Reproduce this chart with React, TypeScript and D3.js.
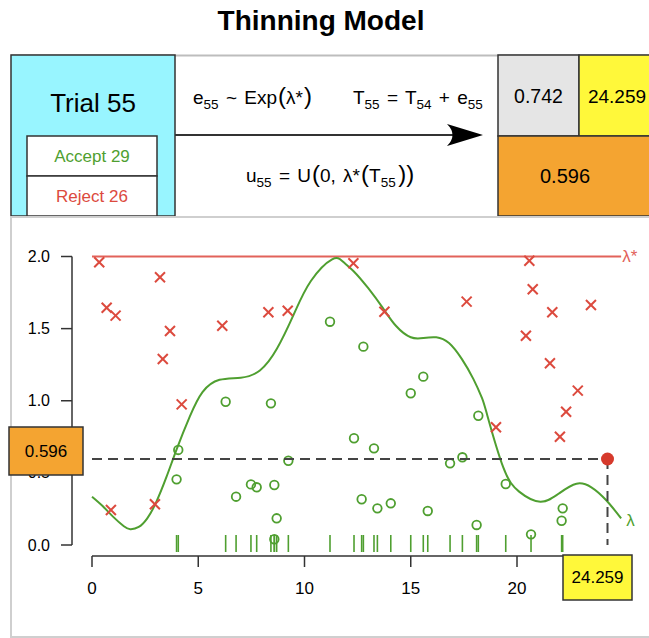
import * as d3 from 'd3'

const width = 649
const height = 638

const font = '"Liberation Sans", Arial, Helvetica, sans-serif'
const red = '#dc4a3e'
const green = '#4f9f30'

// current trial
const trial = 55
const acceptCount = 29
const rejectCount = 26
const eCur = 0.742
const tCur = 24.259
const uCur = 0.596

// intensity lambda(t)
const lamT = [0, 0.5, 1.0, 1.5, 1.8, 2.2, 2.6, 3.0, 3.5, 4.0, 4.6, 5.2, 6.0, 7.0, 7.9, 8.7, 9.5, 10.3, 11.3, 11.8, 12.3, 13.0, 13.7, 14.3, 15.0, 15.6, 16.2, 16.8, 17.4, 17.95, 18.35, 18.6, 19.35, 20.1, 21.1, 22.0, 22.8, 23.5, 24.2, 24.9]
const lamV = [0.335, 0.27, 0.195, 0.13, 0.11, 0.125, 0.185, 0.29, 0.47, 0.67, 0.89, 1.06, 1.145, 1.16, 1.21, 1.36, 1.6, 1.83, 1.98, 1.965, 1.9, 1.78, 1.64, 1.52, 1.44, 1.435, 1.44, 1.4, 1.29, 1.15, 1.02, 0.9, 0.54, 0.37, 0.3, 0.36, 0.425, 0.4, 0.31, 0.185]
const lamStar = 2.0

// accepted points (t, u)
const accT = [3.98, 4.06, 6.29, 6.78, 7.48, 7.75, 8.42, 8.58, 8.69, 8.58, 9.24, 11.2, 12.33, 12.69, 12.77, 13.27, 13.43, 14.06, 15.0, 15.59, 15.8, 16.85, 17.43, 18.1, 18.18, 19.47, 20.66, 22.1, 22.15]
const accU = [0.455, 0.659, 0.993, 0.335, 0.42, 0.4, 0.982, 0.416, 0.185, 0.04, 0.584, 1.548, 0.74, 0.317, 1.375, 0.67, 0.254, 0.289, 1.052, 1.167, 0.236, 0.566, 0.608, 0.139, 0.896, 0.423, 0.074, 0.168, 0.254]

// rejected points (t, u)
const rejT = [0.34, 0.69, 0.89, 1.11, 2.96, 3.2, 3.33, 3.67, 4.22, 6.13, 8.3, 9.21, 12.3, 13.76, 17.63, 19.01, 20.42, 20.58, 20.74, 21.55, 21.66, 22.02, 22.31, 22.86, 23.48]
const rejU = [1.96, 1.645, 0.243, 1.59, 0.282, 1.856, 1.289, 1.484, 0.975, 1.52, 1.613, 1.624, 1.953, 1.617, 1.687, 0.816, 1.451, 1.971, 1.773, 1.26, 1.613, 0.751, 0.924, 1.07, 1.664]

const xTicks = [0, 5, 10, 15, 20, 25]
const xLabels = ['0', '5', '10', '15', '20', '']
const yTicks = [0, 0.5, 1.0, 1.5, 2.0]

function Sub({ children }: { children: string }) {
  return <tspan fontSize={13.5} dy={5}>{children}</tspan>
}

function Up({ children }: { children: string }) {
  return <tspan dy={-5}>{children}</tspan>
}

function Paren({ children }: { children: string }) {
  return <tspan fontSize={24} dx={1}>{children}</tspan>
}

function App() {
  const x = d3.scaleLinear().domain([0, 25]).range([92, 623.25])
  const y = d3.scaleLinear().domain([0, 2]).range([545, 256.5])

  const lamPts = lamT.map((t, i) => [t, lamV[i]] as [number, number])
  const lamLine = d3.line<[number, number]>()
    .x(d => x(d[0]))
    .y(d => y(d[1]))
    .curve(d3.curveNatural)

  const xs = 5
  const fmt = d3.format('.3f')
  const axisY = 556

  return (
    <svg width={width} height={height} style={{ display: 'block', position: 'absolute', left: 0, top: 0 }} fontFamily={font}>
      <rect width={width} height={height} fill="white" />
      <text x={321} y={30} textAnchor="middle" fontSize={28} fontWeight="bold">Thinning Model</text>

      {/* top panel */}
      <line x1={11} x2={649} y1={55.5} y2={55.5} stroke="#bdbdbd" strokeWidth={2} />
      <rect x={11} y={55} width={164} height={161} fill="#98f5ff" stroke="#333" strokeWidth={1.5} />
      <text x={93} y={112} textAnchor="middle" fontSize={26}>Trial {trial}</text>
      <rect x={27} y={136} width={130} height={40} fill="white" stroke="#333" strokeWidth={1.5} />
      <rect x={27} y={176} width={130} height={40} fill="white" stroke="#333" strokeWidth={1.5} />
      <text x={92} y={162} textAnchor="middle" fontSize={17} fill={green}>Accept {acceptCount}</text>
      <text x={92} y={202} textAnchor="middle" fontSize={17} fill={red}>Reject {rejectCount}</text>

      <line x1={175} x2={470} y1={135} y2={135} stroke="#333" strokeWidth={1.8} />
      <path d="M483,135 L447,124 Q458,135 447,146 Z" fill="black" />
      <text x={193} y={104} fontSize={19} wordSpacing={2}>
        e<Sub>{String(trial)}</Sub><Up> ~ Exp</Up><Paren>(</Paren>λ*<Paren>)</Paren>
      </text>
      <text x={353} y={104} fontSize={19} wordSpacing={2}>
        T<Sub>{String(trial)}</Sub><Up> = T</Up><Sub>{String(trial - 1)}</Sub><Up> + e</Up><Sub>{String(trial)}</Sub>
      </text>
      <text x={246} y={182} fontSize={19} wordSpacing={2}>
        u<Sub>{String(trial)}</Sub><Up> = U</Up><Paren>(</Paren>0, λ*<Paren>(</Paren>T<Sub>{String(trial)}</Sub><Up>{'\u200A'}</Up><Paren>))</Paren>
      </text>

      <rect x={498} y={55} width={81} height={81} fill="#e5e5e5" stroke="#333" strokeWidth={1.5} />
      <rect x={579} y={55} width={81} height={81} fill="#fff83a" stroke="#333" strokeWidth={1.5} />
      <rect x={498} y={136} width={162} height={80} fill="#f4a431" stroke="#333" strokeWidth={1.5} />
      <text x={538.5} y={103} textAnchor="middle" fontSize={19.5}>{fmt(eCur)}</text>
      <text x={617} y={103} textAnchor="middle" fontSize={19}>{fmt(tCur)}</text>
      <text x={565} y={183} textAnchor="middle" fontSize={20}>{fmt(uCur)}</text>

      {/* plot frame */}
      <rect x={11} y={217} width={640} height={420} fill="none" stroke="#cfcfcf" strokeWidth={2} />

      {/* axes */}
      <line x1={72} x2={72} y1={y(0)} y2={y(2)} stroke="#333" strokeWidth={1.5} />
      {yTicks.map(t => (
        <g key={t} transform={`translate(72,${y(t)})`}>
          <line x1={-11} x2={0} stroke="#333" strokeWidth={1.5} />
          <text x={-22} dy="0.35em" textAnchor="end" fontSize={16}>{t.toFixed(1)}</text>
        </g>
      ))}
      <line x1={x(0)} x2={x(25)} y1={axisY} y2={axisY} stroke="#333" strokeWidth={1.5} />
      {xTicks.map((t, i) => (
        <g key={t} transform={`translate(${x(t)},${axisY})`}>
          <line y2={11} stroke="#333" strokeWidth={1.5} />
          {xLabels[i] && <text y={32} dy="0.35em" textAnchor="middle" fontSize={17}>{xLabels[i]}</text>}
        </g>
      ))}

      {/* lambda star */}
      <line x1={x(0)} x2={x(24.9)} y1={y(lamStar)} y2={y(lamStar)} stroke="#e2625a" strokeWidth={2} />
      <text x={x(24.9) + 1} y={y(lamStar)} dy="0.35em" fontSize={17} fill="#e2625a">λ*</text>

      {/* lambda curve */}
      <path d={lamLine(lamPts) ?? ''} fill="none" stroke={green} strokeWidth={2} />
      <text x={x(24.9) + 5} y={y(lamV[lamV.length - 1]) + 2} dy="0.35em" fontSize={17} fill={green}>λ</text>

      {/* rug */}
      {accT.map((t, i) => (
        <line key={'r' + i} x1={x(t)} x2={x(t)} y1={y(0) - 10} y2={y(0) + 7} stroke={green} strokeWidth={1.6} />
      ))}

      {/* rejected */}
      {rejT.map((t, i) => (
        <g key={'x' + i} transform={`translate(${x(t)},${y(rejU[i])})`} stroke={red} strokeWidth={2}>
          <line x1={-xs} y1={-xs} x2={xs} y2={xs} />
          <line x1={-xs} y1={xs} x2={xs} y2={-xs} />
        </g>
      ))}

      {/* accepted */}
      {accT.map((t, i) => (
        <circle key={'a' + i} cx={x(t)} cy={y(accU[i])} r={4.3} fill="none" stroke={green} strokeWidth={1.8} />
      ))}

      {/* current proposal */}
      <line x1={x(0)} x2={x(tCur)} y1={y(uCur)} y2={y(uCur)} stroke="#444" strokeWidth={2} strokeDasharray="10,6" />
      <line x1={x(tCur)} x2={x(tCur)} y1={y(uCur)} y2={y(0)} stroke="#444" strokeWidth={2} strokeDasharray="10,6" />
      <circle cx={x(tCur)} cy={y(uCur)} r={6.5} fill="#d63a2c" />

      <rect x={9} y={427} width={74} height={48} fill="#f4a431" stroke="#333" strokeWidth={1.5} />
      <text x={46} y={451} dy="0.35em" textAnchor="middle" fontSize={17}>{fmt(uCur)}</text>
      <rect x={563} y={555} width={69} height={45} fill="#fff83a" stroke="#333" strokeWidth={1.5} />
      <text x={597.5} y={577} dy="0.35em" textAnchor="middle" fontSize={17}>{fmt(tCur)}</text>
    </svg>
  )
}

export default App
